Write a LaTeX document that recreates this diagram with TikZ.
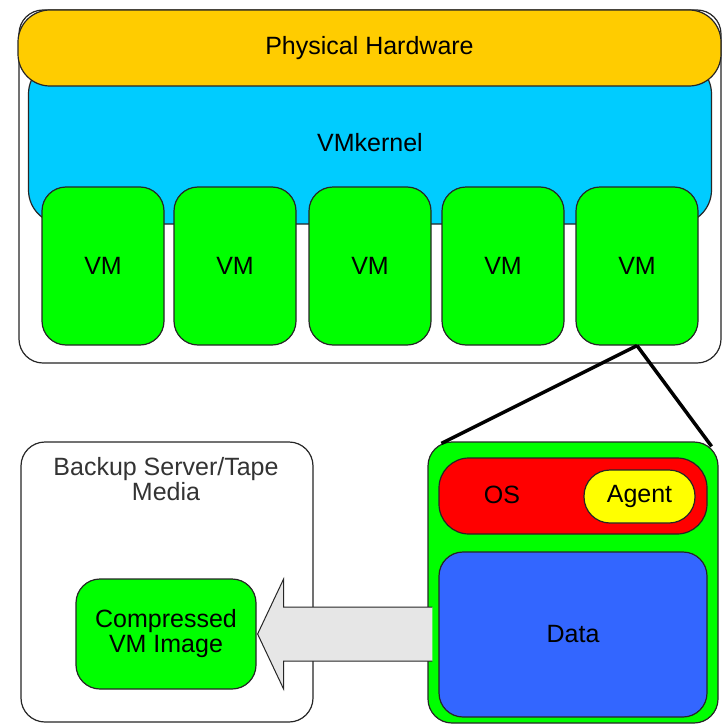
\documentclass[tikz,border=0pt]{standalone}
\usepackage{fontspec}
\setmainfont{Liberation Sans}
\usetikzlibrary{calc}
\definecolor{hworange}{HTML}{FFCC00}
\definecolor{kerncyan}{HTML}{00CCFF}
\definecolor{vmgreen}{HTML}{00FF00}
\definecolor{osred}{HTML}{FF0000}
\definecolor{agentyellow}{HTML}{FFFF00}
\definecolor{datablue}{HTML}{3366FF}
\definecolor{arrowgray}{HTML}{E6E6E6}
\begin{document}
\begin{tikzpicture}[x=1pt,y=-1pt,
  box/.style={draw=black!85, line width=1.2pt, rounded corners=24pt, inner sep=0pt, align=center, font=\fontsize{25}{25}\selectfont},
  vmbox/.style={box, fill=vmgreen, minimum width=122pt, minimum height=158pt},
  txt/.style={inner sep=0pt, align=center, font=\fontsize{25}{23}\selectfont}]
\useasboundingbox (0,0) rectangle (723,725);
\node[box, fill=white, minimum width=702pt, minimum height=353pt] (host) at (370,186.5){};
\node[box, fill=kerncyan, minimum width=683pt, minimum height=164pt, rounded corners=34pt] (kern) at (370,142){};
\node[box, fill=hworange, minimum width=703pt, minimum height=76pt, rounded corners=32pt] (hw) at (369.5,48){Physical Hardware};
\node[txt] (kerntext) at (370,143){VMkernel};
\node[vmbox] (vm1) at (103,266){VM};
\node[vmbox] (vm2) at (235,266){VM};
\node[vmbox] (vm3) at (370,266){VM};
\node[vmbox] (vm4) at (503,266){VM};
\node[vmbox] (vm5) at (637,266){VM};
\node[box, fill=white, minimum width=292pt, minimum height=280pt] (backup) at (167,582){};
\node[txt, text=black!80] (backuptext) at (166,479){Backup Server/Tape\\Media};
\node[box, fill=vmgreen, minimum width=180pt, minimum height=110pt] (image) at (166,634){Compressed\\VM Image};
\node[box, fill=vmgreen, minimum width=290pt, minimum height=281pt] (guest) at (573,582.5){};
\draw[line width=3.5pt] (vm5.south) -- ($(guest.north west)+(14,2)$);
\draw[line width=3.5pt] (vm5.south) -- ($(guest.north east)+(-7,5)$);
\coordinate (tail) at ($(guest.west |- image.east)+(5,0)$);
\filldraw[fill=arrowgray, draw=black!85, line width=1pt] ($(tail)+(0,-27)$) -- ($(image.east)+(27,-27)$) -- ($(image.east)+(27,-55)$) -- ($(image.east)+(1,0)$) -- ($(image.east)+(27,55)$) -- ($(image.east)+(27,27)$) -- ($(tail)+(0,27)$);
\node[box, fill=osred, minimum width=268pt, minimum height=76pt, rounded corners=30pt] (os) at (573,496){};
\node[txt] (ostext) at (502,495){OS};
\node[box, fill=agentyellow, minimum width=111pt, minimum height=53pt, rounded corners=26pt] (agent) at (639.5,496.5){Agent};
\node[box, fill=datablue, minimum width=268pt, minimum height=165pt] (data) at (573,634.5){Data};
\end{tikzpicture}
\end{document}
